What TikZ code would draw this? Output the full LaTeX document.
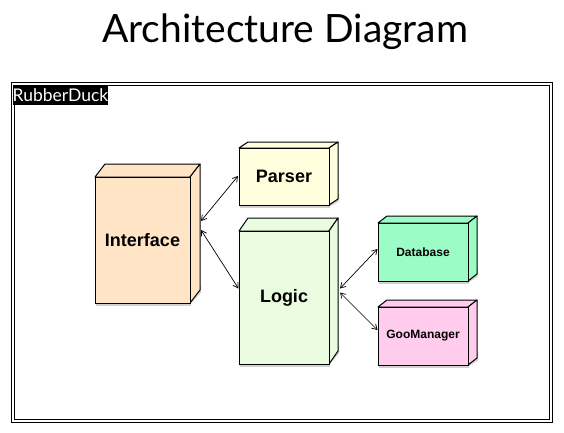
\documentclass[tikz,border=0pt]{standalone}
\usepackage{fontspec}
\setmainfont{Liberation Sans}
\newfontfamily\titlefont{Lato}
\usetikzlibrary{arrows.meta,calc}
\definecolor{ifC}{HTML}{FFE5C5}
\definecolor{parC}{HTML}{FFFFDD}
\definecolor{logC}{HTML}{EAFCE0}
\definecolor{dbC}{HTML}{9CFCC5}
\definecolor{gooC}{HTML}{FFCCEE}
\newcommand\cubefaces[7]{%
  \fill[black!18] (#2+1,#5-5) rectangle (#4+1,#5+2.5);
  \fill[black!18] (#4-1,#5+2.5) -- (#4+#6+1,#5-#7+2.5) -- (#4+#6+1,#5-#7-5) -- (#4-1,#5-5) -- cycle;
  \filldraw[fill=#1, line width=1pt, line join=round] (#2,#3) -- (#2+#6,#3-#7) -- (#4+#6,#3-#7) -- (#4,#3) -- cycle;
  \filldraw[fill=#1, line width=1pt, line join=round] (#4,#3) -- (#4+#6,#3-#7) -- (#4+#6,#5-#7) -- (#4,#5) -- cycle;
}
\begin{document}
\begin{tikzpicture}[x=1pt,y=-1pt,
  conn/.style={{Straight Barb[length=5pt,width=6pt]}-{Straight Barb[length=5pt,width=6pt]}, line width=0.7pt},
  boxnode/.style={draw, line width=1pt, inner sep=0pt, font=\bfseries\fontsize{18}{20}\selectfont},
  smallbox/.style={boxnode, font=\bfseries\fontsize{12}{14}\selectfont},
  frame/.style={line width=1.4pt}]
\useasboundingbox (0,0) rectangle (564,433);
\node[font=\titlefont\fontsize{39}{46}\selectfont, anchor=base, inner sep=0pt] (title) at (285,43) {Architecture Diagram};
\draw[frame] (11.5,82.5) rectangle (552.5,422.5);
\draw[frame] (14.5,85.5) rectangle (549.5,419.5);
\node[fill=black, text=white, anchor=north west, minimum width=93pt, minimum height=20pt, inner sep=0pt, font=\titlefont\fontsize{17.5}{20}\selectfont] (lbl) at (12.5,85) {RubberDuck};
\cubefaces{ifC}{95}{177}{190}{303}{10}{13}
\node[boxnode, fill=ifC, minimum width=95pt, minimum height=126pt] (iface) at (142.5,240) {Interface};
\cubefaces{parC}{239}{148}{329}{205}{9}{6}
\node[boxnode, fill=parC, minimum width=90pt, minimum height=57pt] (parser) at (284,176.5) {Parser};
\cubefaces{logC}{239}{231}{329}{364}{9}{13}
\node[boxnode, fill=logC, minimum width=90pt, minimum height=133pt] (logic) at (284,297.5) {Logic};
\cubefaces{dbC}{378}{223}{468}{281}{9}{7}
\node[smallbox, fill=dbC, minimum width=90pt, minimum height=58pt] (db) at (423,252) {Database};
\cubefaces{gooC}{378}{307}{468}{365}{9}{7}
\node[smallbox, fill=gooC, minimum width=90pt, minimum height=58pt] (goo) at (423,336) {GooManager};
\draw[conn] ([xshift=10.5pt,yshift=19pt]iface.east) -- ([xshift=-0.5pt,yshift=0.5pt]parser.west);
\draw[conn] ([xshift=10.5pt,yshift=10pt]iface.east) -- ([yshift=9pt]logic.west);
\draw[conn] ([xshift=10.5pt,yshift=9pt]logic.east) -- ([yshift=3pt]db.west);
\draw[conn] ([xshift=10.5pt,yshift=5pt]logic.east) -- ([yshift=6pt]goo.west);
\end{tikzpicture}
\end{document}
